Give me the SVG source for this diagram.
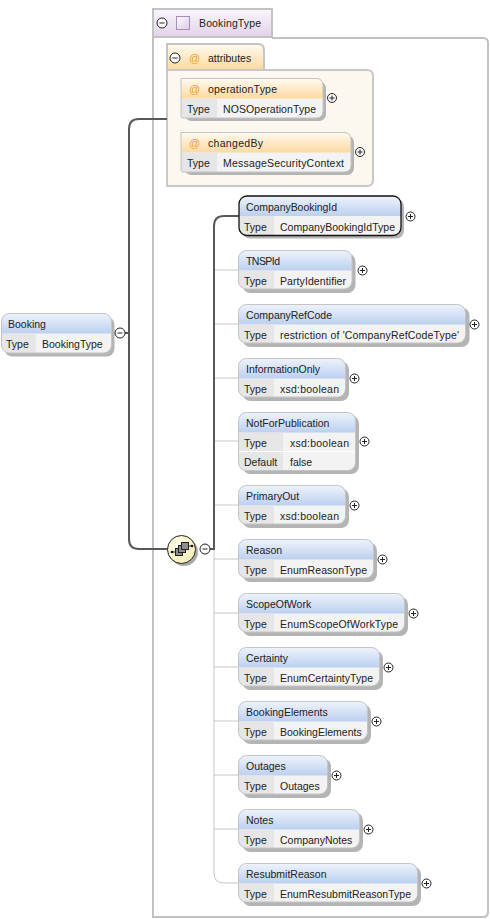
<svg xmlns="http://www.w3.org/2000/svg" xmlns:xlink="http://www.w3.org/1999/xlink" width="490" height="919" viewBox="0 0 490 919">
<style>
text{font-family:"Liberation Sans",Arial,sans-serif;font-size:10.5px;fill:#222}
.sh{fill:#b4b4b4}
.bd{fill:none;stroke:#c4c4c4;stroke-width:1}
.bdk{fill:none;stroke:#111;stroke-width:1.3}
.hb{fill:url(#blue)}
.ho{fill:url(#orange)}
.rowk{fill:#e6e6e6}
.body{fill:#f3f3f3}
.c{fill:none;stroke:#595959;stroke-width:2}
.t{fill:none;stroke:#c6c6c6;stroke-width:1}
.at{fill:#f0a030;font-size:11px}
.btn{fill:#fff;stroke:#222;stroke-width:1}
.g{stroke:#222;stroke-width:1;fill:none}
.sep{stroke:#fff;stroke-width:1;fill:none}
.sq{fill:#8f8f8f;stroke:#222}
</style>
<defs>
<linearGradient id="blue" x1="0" y1="0" x2="0" y2="1"><stop offset="0" stop-color="#eef3fb"/><stop offset="1" stop-color="#bcd0f0"/></linearGradient>
<linearGradient id="orange" x1="0" y1="0" x2="0" y2="1"><stop offset="0" stop-color="#fffaf0"/><stop offset="1" stop-color="#fdd9a0"/></linearGradient>
<linearGradient id="purple" x1="0" y1="0" x2="0" y2="1"><stop offset="0" stop-color="#faf6fb"/><stop offset="1" stop-color="#e2d2ea"/></linearGradient>
<linearGradient id="swatch" x1="0" y1="0" x2="1" y2="1"><stop offset="0" stop-color="#fbf9fc"/><stop offset="1" stop-color="#dccfe6"/></linearGradient>
<radialGradient id="yel" cx="0.4" cy="0.35" r="0.7"><stop offset="0" stop-color="#fffff0"/><stop offset="1" stop-color="#f6eeb4"/></radialGradient>
<g id="plus"><circle r="4.500" class="btn"/><path d="M-2.500 0H2.500M0-2.500V2.500" class="g"/></g>
<g id="minus"><circle r="5" class="btn"/><path d="M-2.500 0H2.500" class="g"/></g>
</defs>

<g id="typebox">
<path d="M153 37H272V9H153Z" fill="url(#purple)" stroke="#c2c2c2" stroke-width="2"/>
<path d="M153 37V917H483Q488 917 488 912V43Q488 38 483 38H272" fill="none" stroke="#c2c2c2" stroke-width="2"/>
<use xlink:href="#minus" x="162" y="23"/>
<rect x="176.500" y="16.500" width="13" height="13" fill="url(#swatch)" stroke="#a78bbb"/>
<text x="199" y="27" textLength="62">BookingType</text>
</g>

<g id="attributes">
<path d="M167 70V44H258Q264 44 264 50V70Z" fill="url(#orange)" stroke="#c4c4c4" stroke-width="2"/>
<path d="M167 70H367Q373 70 373 76V180Q373 186 367 186H167Z" fill="#fdf8ef" stroke="#c8c8c8" stroke-width="2"/>
<use xlink:href="#minus" x="175" y="58"/>
<text x="189" y="62" class="at">@</text>
<text x="208" y="62">attributes</text>
</g>

<g id="connectors">
<path class="c" d="M167 119H139Q129 119 129 129V539Q129 549 139 549H168"/>
<path class="c" d="M125 333H129"/>
<path class="t" d="M214 270H239M214 324H239M214 378H239M214 441H239M214 505H239M214 559H239M214 613H239M214 667H239M214 721H239M214 775H239M214 829H239"/>
<path class="t" d="M214 549V873Q214 883 224 883H239"/>
<path class="c" d="M210 549H214V226Q214 216 224 216H239"/>
</g>

<g id="operationType">
<rect x="184.500" y="81.500" width="141.500" height="39.500" rx="7" class="sh"/>
<path d="M181 78.500H316Q323 78.500 323 85.500V111Q323 118 316 118H183Q181 118 181 116Z" class="body"/>
<path d="M181 98.500V78.500H316Q323 78.500 323 85.500V98.500Z" class="ho"/>
<path d="M181 98.500H217V118H183Q181 118 181 116Z" class="rowk"/>
<path d="M181 78.500H316Q323 78.500 323 85.500V111Q323 118 316 118H183Q181 118 181 116Z" class="bd"/>
<text x="189" y="93" class="at">@</text><text x="208" y="93" textLength="69">operationType</text>
<text x="187" y="113">Type</text><text x="223" y="113" textLength="93">NOSOperationType</text>
<use xlink:href="#plus" x="332" y="98"/>
</g>
<g id="changedBy">
<rect x="184.500" y="135.500" width="169.500" height="39.500" rx="7" class="sh"/>
<path d="M181 132.500H344Q351 132.500 351 139.500V165Q351 172 344 172H183Q181 172 181 170Z" class="body"/>
<path d="M181 152.500V132.500H344Q351 132.500 351 139.500V152.500Z" class="ho"/>
<path d="M181 152.500H217V172H183Q181 172 181 170Z" class="rowk"/>
<path d="M181 132.500H344Q351 132.500 351 139.500V165Q351 172 344 172H183Q181 172 181 170Z" class="bd"/>
<text x="189" y="147" class="at">@</text><text x="208" y="147" textLength="55">changedBy</text>
<text x="187" y="167">Type</text><text x="223" y="167" textLength="121">MessageSecurityContext</text>
<use xlink:href="#plus" x="360" y="152"/>
</g>

<g id="Booking">
<rect x="4.500" y="317" width="110" height="39.500" rx="8" class="sh"/>
<rect x="1.500" y="313.500" width="110" height="39.500" rx="8" class="body"/>
<path d="M1.500 333.500V321.500Q1.500 313.500 9.500 313.500H103.500Q111.500 313.500 111.500 321.500V333.500Z" class="hb"/>
<path d="M1.500 333.500H35.500V353H9.500Q1.500 353 1.500 345Z" class="rowk"/>
<rect x="1.500" y="313.500" width="110" height="39.500" rx="8" class="bd"/>
<text x="8" y="328">Booking</text>
<text x="6" y="348">Type</text><text x="42" y="348">BookingType</text>
<use xlink:href="#minus" x="120" y="333"/>
</g>

<g id="sequence">
<circle cx="184" cy="552" r="14" fill="#aaa"/>
<circle cx="181.500" cy="549.500" r="14" fill="url(#yel)" stroke="#222" stroke-width="1"/>
<path d="M172 552H177M187 546H192" stroke="#222" stroke-width="1"/>
<circle cx="172" cy="552" r="1.300" fill="#111"/><circle cx="192" cy="546" r="1.300" fill="#111"/>
<rect x="175.500" y="548.500" width="7" height="7" class="sq"/>
<rect x="178.500" y="545.500" width="7" height="7" class="sq"/>
<rect x="181.500" y="542.500" width="7" height="7" class="sq"/>
<use xlink:href="#minus" x="205" y="549"/>
</g>

<g id="CompanyBookingId">
<rect x="242" y="199" width="162" height="39.500" rx="8" class="sh"/>
<rect x="239" y="196" width="162" height="39.500" rx="8" class="body"/>
<path d="M239 216V204Q239 196 247 196H393Q401 196 401 204V216Z" class="hb"/>
<path d="M239 216H274V235.500H247Q239 235.500 239 227.500Z" class="rowk"/>
<rect x="239" y="196" width="162" height="39.500" rx="8" class="bdk"/>
<text x="246" y="211" textLength="91">CompanyBookingId</text>
<text x="244" y="231">Type</text><text x="280" y="231" textLength="115">CompanyBookingIdType</text>
<use xlink:href="#plus" x="410.500" y="216.500"/>
</g>
<g id="TNSPId">
<rect x="242.500" y="253.500" width="113" height="39.500" rx="8" class="sh"/>
<rect x="238.500" y="250.500" width="113.500" height="38.500" rx="8" class="body"/>
<path d="M238.500 270.500V258.500Q238.500 250.500 246.500 250.500H344Q352 250.500 352 258.500V270.500Z" class="hb"/>
<path d="M238.500 270.500H274V289H246.500Q238.500 289 238.500 281Z" class="rowk"/>
<rect x="238.500" y="250.500" width="113.500" height="38.500" rx="8" class="bd"/>
<text x="246" y="265" textLength="34">TNSPId</text>
<text x="244" y="285">Type</text><text x="280" y="285" textLength="66">PartyIdentifier</text>
<use xlink:href="#plus" x="362.500" y="270.500"/>
</g>
<g id="CompanyRefCode">
<rect x="242.500" y="307.500" width="227" height="39.500" rx="8" class="sh"/>
<rect x="238.500" y="304.500" width="227" height="38.500" rx="8" class="body"/>
<path d="M238.500 324.500V312.500Q238.500 304.500 246.500 304.500H457.500Q465.500 304.500 465.500 312.500V324.500Z" class="hb"/>
<path d="M238.500 324.500H274V343H246.500Q238.500 343 238.500 335Z" class="rowk"/>
<rect x="238.500" y="304.500" width="227" height="38.500" rx="8" class="bd"/>
<text x="246" y="319" textLength="86">CompanyRefCode</text>
<text x="244" y="339">Type</text><text x="280" y="339" textLength="179">restriction of 'CompanyRefCodeType'</text>
<use xlink:href="#plus" x="474.500" y="324.500"/>
</g>
<g id="InformationOnly">
<rect x="242.500" y="361.500" width="106.500" height="39.500" rx="8" class="sh"/>
<rect x="238.500" y="358.500" width="107" height="38.500" rx="8" class="body"/>
<path d="M238.500 378.500V366.500Q238.500 358.500 246.500 358.500H337.500Q345.500 358.500 345.500 366.500V378.500Z" class="hb"/>
<path d="M238.500 378.500H274V397H246.500Q238.500 397 238.500 389Z" class="rowk"/>
<rect x="238.500" y="358.500" width="107" height="38.500" rx="8" class="bd"/>
<text x="246" y="373">InformationOnly</text>
<text x="244" y="393">Type</text><text x="280" y="393" textLength="59">xsd:boolean</text>
<use xlink:href="#plus" x="354.500" y="378.500"/>
</g>
<g id="NotForPublication">
<rect x="242.500" y="415.500" width="116.500" height="58.500" rx="8" class="sh"/>
<rect x="238.500" y="412.500" width="117" height="58" rx="8" class="body"/>
<path d="M238.500 432.500V420.500Q238.500 412.500 246.500 412.500H347.500Q355.500 412.500 355.500 420.500V432.500Z" class="hb"/>
<path d="M238.500 432.500H283V470.500H246.500Q238.500 470.500 238.500 462.500Z" class="rowk"/>
<path d="M238.500 451.500H355.500" class="sep"/>
<rect x="238.500" y="412.500" width="117" height="58" rx="8" class="bd"/>
<text x="246" y="427">NotForPublication</text>
<text x="244" y="447">Type</text><text x="290" y="447" textLength="59">xsd:boolean</text>
<text x="244" y="466">Default</text><text x="290" y="466">false</text>
<use xlink:href="#plus" x="364.500" y="441.500"/>
</g>
<g id="PrimaryOut">
<rect x="242.500" y="488.500" width="106.500" height="39.500" rx="8" class="sh"/>
<rect x="238.500" y="485.500" width="107" height="38.500" rx="8" class="body"/>
<path d="M238.500 505.500V493.500Q238.500 485.500 246.500 485.500H337.500Q345.500 485.500 345.500 493.500V505.500Z" class="hb"/>
<path d="M238.500 505.500H274V524H246.500Q238.500 524 238.500 516Z" class="rowk"/>
<rect x="238.500" y="485.500" width="107" height="38.500" rx="8" class="bd"/>
<text x="246" y="500">PrimaryOut</text>
<text x="244" y="520">Type</text><text x="280" y="520" textLength="59">xsd:boolean</text>
<use xlink:href="#plus" x="354.500" y="505.500"/>
</g>
<g id="Reason">
<rect x="242.500" y="542.500" width="134.500" height="39.500" rx="8" class="sh"/>
<rect x="238.500" y="539.500" width="135" height="38.500" rx="8" class="body"/>
<path d="M238.500 559.500V547.500Q238.500 539.500 246.500 539.500H365.500Q373.500 539.500 373.500 547.500V559.500Z" class="hb"/>
<path d="M238.500 559.500H274V578H246.500Q238.500 578 238.500 570Z" class="rowk"/>
<rect x="238.500" y="539.500" width="135" height="38.500" rx="8" class="bd"/>
<text x="246" y="554">Reason</text>
<text x="244" y="574">Type</text><text x="280" y="574" textLength="87">EnumReasonType</text>
<use xlink:href="#plus" x="382.500" y="559.500"/>
</g>
<g id="ScopeOfWork">
<rect x="242.500" y="596.500" width="165.500" height="39.500" rx="8" class="sh"/>
<rect x="238.500" y="593.500" width="166" height="38.500" rx="8" class="body"/>
<path d="M238.500 613.500V601.500Q238.500 593.500 246.500 593.500H396.500Q404.500 593.500 404.500 601.500V613.500Z" class="hb"/>
<path d="M238.500 613.500H274V632H246.500Q238.500 632 238.500 624Z" class="rowk"/>
<rect x="238.500" y="593.500" width="166" height="38.500" rx="8" class="bd"/>
<text x="246" y="608">ScopeOfWork</text>
<text x="244" y="628">Type</text><text x="280" y="628" textLength="118">EnumScopeOfWorkType</text>
<use xlink:href="#plus" x="413.500" y="613.500"/>
</g>
<g id="Certainty">
<rect x="242.500" y="650.500" width="140.500" height="39.500" rx="8" class="sh"/>
<rect x="238.500" y="647.500" width="141" height="38.500" rx="8" class="body"/>
<path d="M238.500 667.500V655.500Q238.500 647.500 246.500 647.500H371.500Q379.500 647.500 379.500 655.500V667.500Z" class="hb"/>
<path d="M238.500 667.500H274V686H246.500Q238.500 686 238.500 678Z" class="rowk"/>
<rect x="238.500" y="647.500" width="141" height="38.500" rx="8" class="bd"/>
<text x="246" y="662">Certainty</text>
<text x="244" y="682">Type</text><text x="280" y="682" textLength="93">EnumCertaintyType</text>
<use xlink:href="#plus" x="388.500" y="667.500"/>
</g>
<g id="BookingElements">
<rect x="242.500" y="704.500" width="128.500" height="39.500" rx="8" class="sh"/>
<rect x="238.500" y="701.500" width="129" height="38.500" rx="8" class="body"/>
<path d="M238.500 721.500V709.500Q238.500 701.500 246.500 701.500H359.500Q367.500 701.500 367.500 709.500V721.500Z" class="hb"/>
<path d="M238.500 721.500H274V740H246.500Q238.500 740 238.500 732Z" class="rowk"/>
<rect x="238.500" y="701.500" width="129" height="38.500" rx="8" class="bd"/>
<text x="246" y="716">BookingElements</text>
<text x="244" y="736">Type</text><text x="280" y="736">BookingElements</text>
<use xlink:href="#plus" x="376.500" y="721.500"/>
</g>
<g id="Outages">
<rect x="242.500" y="758.500" width="88.500" height="39.500" rx="8" class="sh"/>
<rect x="238.500" y="755.500" width="89" height="38.500" rx="8" class="body"/>
<path d="M238.500 775.500V763.500Q238.500 755.500 246.500 755.500H319.500Q327.500 755.500 327.500 763.500V775.500Z" class="hb"/>
<path d="M238.500 775.500H274V794H246.500Q238.500 794 238.500 786Z" class="rowk"/>
<rect x="238.500" y="755.500" width="89" height="38.500" rx="8" class="bd"/>
<text x="246" y="770">Outages</text>
<text x="244" y="790">Type</text><text x="280" y="790">Outages</text>
<use xlink:href="#plus" x="336.500" y="775.500"/>
</g>
<g id="Notes">
<rect x="242.500" y="812.500" width="120.500" height="39.500" rx="8" class="sh"/>
<rect x="238.500" y="809.500" width="121" height="38.500" rx="8" class="body"/>
<path d="M238.500 829.500V817.500Q238.500 809.500 246.500 809.500H351.500Q359.500 809.500 359.500 817.500V829.500Z" class="hb"/>
<path d="M238.500 829.500H274V848H246.500Q238.500 848 238.500 840Z" class="rowk"/>
<rect x="238.500" y="809.500" width="121" height="38.500" rx="8" class="bd"/>
<text x="246" y="824">Notes</text>
<text x="244" y="844">Type</text><text x="280" y="844">CompanyNotes</text>
<use xlink:href="#plus" x="368.500" y="829.500"/>
</g>
<g id="ResubmitReason">
<rect x="242.500" y="866.500" width="178.500" height="39.500" rx="8" class="sh"/>
<rect x="238.500" y="863.500" width="179" height="38.500" rx="8" class="body"/>
<path d="M238.500 883.500V871.500Q238.500 863.500 246.500 863.500H409.500Q417.500 863.500 417.500 871.500V883.500Z" class="hb"/>
<path d="M238.500 883.500H274V902H246.500Q238.500 902 238.500 894Z" class="rowk"/>
<rect x="238.500" y="863.500" width="179" height="38.500" rx="8" class="bd"/>
<text x="246" y="878">ResubmitReason</text>
<text x="244" y="898">Type</text><text x="280" y="898" textLength="131">EnumResubmitReasonType</text>
<use xlink:href="#plus" x="426.500" y="883.500"/>
</g>
</svg>
